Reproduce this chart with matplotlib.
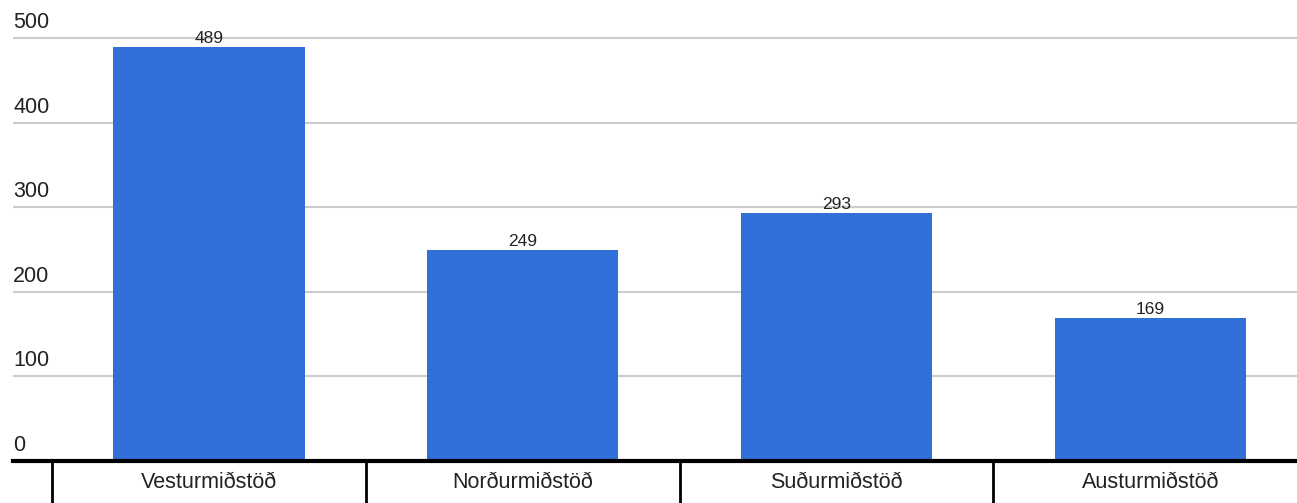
import matplotlib

matplotlib.use("Agg")
import matplotlib.pyplot as plt
from matplotlib.transforms import blended_transform_factory

centres = ["Vesturmiðstöð", "Norðurmiðstöð", "Suðurmiðstöð", "Austurmiðstöð"]
counts = [489, 249, 293, 169]
y_ticks = [0, 100, 200, 300, 400, 500]

BAR_COLOR = "#3070d8"
GRID_COLOR = "#cccccc"

plt.rcParams["font.family"] = ["Liberation Sans", "DejaVu Sans"]

W, H = 1297, 503
fig = plt.figure(figsize=(W / 100, H / 100), dpi=100)
# axes spans from x=13px to right edge, baseline at y=461px, top at the figure top
ax = fig.add_axes([13 / W, (H - 461) / H, 1 - 13 / W, 461 / H])
ax.set_xlim(-0.625, 3.468)
ax.set_ylim(0, 545)
ax.axis("off")

x = list(range(len(centres)))

# gridlines + y labels sitting above them
trans = blended_transform_factory(ax.transAxes, ax.transData)
for t in y_ticks[1:]:
    ax.axhline(t, color=GRID_COLOR, linewidth=1.5, zorder=0)
for t in y_ticks:
    ax.text(0.0, t + 6, str(t), transform=trans, ha="left", va="bottom",
            fontsize=15.5, color="#222222")

bars = ax.bar(x, counts, width=0.61, color=BAR_COLOR, zorder=2)
for rect, v in zip(bars, counts):
    ax.annotate(str(v), (rect.get_x() + rect.get_width() / 2, v),
                xytext=(0, 1), textcoords="offset points",
                ha="center", va="bottom", fontsize=12.5, color="#222222")

# thick baseline
ax.axhline(0, color="black", linewidth=3, zorder=3, clip_on=False)

# category "table" below the baseline
tb = blended_transform_factory(ax.transData, ax.transAxes)
for i in range(len(centres)):
    ax.plot([i - 0.5, i - 0.5], [0, -42 / 461], color="black", linewidth=2,
            transform=tb, clip_on=False)
    ax.text(i, -22 / 461, centres[i], transform=tb, ha="center", va="center",
            fontsize=15.5, color="#222222")

fig.savefig("out.png", dpi=100)
plt.close(fig)
